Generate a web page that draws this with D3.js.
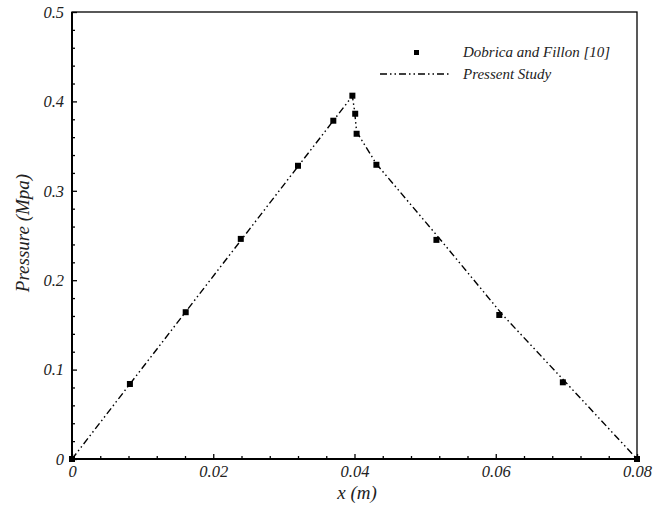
<!DOCTYPE html>
<html>
<head>
<meta charset="utf-8">
<script src="https://cdn.jsdelivr.net/npm/d3@7/dist/d3.min.js"></script>
<style>
  body { margin: 0; background: #fff; }
</style>
</head>
<body>
<svg id="chart" width="668" height="506"></svg>
<script>
// Reference measurements (Dobrica and Fillon [10])
const refX = [0, 0.0082, 0.0161, 0.0239, 0.0320, 0.0370, 0.0397, 0.0401, 0.0403, 0.0431, 0.0516, 0.0605, 0.0695, 0.08];
const refP = [0, 0.0839, 0.1642, 0.2462, 0.3280, 0.3784, 0.4064, 0.3862, 0.3638, 0.3291, 0.2451, 0.1611, 0.0858, 0];

// Present study pressure profile
const studyX = [0, 0.0397, 0.0400, 0.0403, 0.0431, 0.0522, 0.0610, 0.0699, 0.08];
const studyP = [0, 0.4060, 0.3900, 0.3660, 0.3300, 0.2450, 0.1610, 0.0858, 0];

const xMajor = [0, 0.02, 0.04, 0.06, 0.08];
const yMajor = [0, 0.1, 0.2, 0.3, 0.4, 0.5];
const xTickLabels = ["0", "0.02", "0.04", "0.06", "0.08"];
const yTickLabels = ["0", "0.1", "0.2", "0.3", "0.4", "0.5"];

const legendLabels = ["Dobrica and Fillon [10]", "Pressent Study"];

const FONT = '"Liberation Serif", "Times New Roman", Times, "DejaVu Serif", serif';
const INK = "#222";

const svg = d3.select("#chart");
const plotL = 72, plotR = 637, plotT = 12, plotB = 459;

const x = d3.scaleLinear().domain([0, 0.08]).range([plotL, plotR]);
const y = d3.scaleLinear().domain([0, 0.5]).range([plotB, plotT]);

function styleText(sel, size) {
  sel.attr("font-family", FONT).attr("font-style", "italic")
     .attr("font-size", size).attr("fill", INK);
}

// minor ticks
const xMinor = d3.range(0, 0.0801, 0.004).filter(v => !xMajor.some(m => Math.abs(m - v) < 1e-9));
const yMinor = d3.range(0, 0.5001, 0.02).filter(v => !yMajor.some(m => Math.abs(m - v) < 1e-9));

const gx = svg.append("g").attr("transform", `translate(0,${plotB})`);
gx.call(d3.axisBottom(x).tickValues(xMinor).tickSize(-3).tickFormat(""));
gx.call(g => g.select(".domain").remove());
const gx2 = svg.append("g").attr("transform", `translate(0,${plotB})`);
gx2.call(d3.axisBottom(x).tickValues(xMajor).tickSize(-5).tickPadding(6)
  .tickFormat((d, i) => xTickLabels[i]));
gx2.call(g => g.select(".domain").remove());
gx2.attr("font-family", null).attr("font-size", null);
styleText(gx2.selectAll("text"), 16.5);

const gy = svg.append("g").attr("transform", `translate(${plotL},0)`);
gy.call(d3.axisLeft(y).tickValues(yMinor).tickSize(-3).tickFormat(""));
gy.call(g => g.select(".domain").remove());
const gy2 = svg.append("g").attr("transform", `translate(${plotL},0)`);
gy2.call(d3.axisLeft(y).tickValues(yMajor).tickSize(-5).tickPadding(8)
  .tickFormat((d, i) => yTickLabels[i]));
gy2.call(g => g.select(".domain").remove());
gy2.attr("font-family", null).attr("font-size", null);
styleText(gy2.selectAll("text"), 16.5);

svg.selectAll(".tick line").attr("stroke", "#000").attr("stroke-width", 1.3);

// plot frame
svg.append("rect")
  .attr("x", plotL).attr("y", plotT)
  .attr("width", plotR - plotL).attr("height", plotB - plotT)
  .attr("fill", "none").attr("stroke", "#000").attr("stroke-width", 1.3);
svg.append("line").attr("x1", plotL).attr("x2", plotR).attr("y1", plotB).attr("y2", plotB)
  .attr("stroke", "#000").attr("stroke-width", 2);
svg.append("line").attr("x1", plotL).attr("x2", plotL).attr("y1", plotT).attr("y2", plotB)
  .attr("stroke", "#000").attr("stroke-width", 2);

// present study line
const dash = "7,3,1.5,3,1.5,3";
const line = d3.line().x(d => x(d[0])).y(d => y(d[1]));
svg.append("path")
  .datum(d3.zip(studyX, studyP))
  .attr("d", line)
  .attr("fill", "none").attr("stroke", "#000").attr("stroke-width", 1.4)
  .attr("stroke-dasharray", dash);

// reference markers
const ms = 6;
svg.append("g").selectAll("rect")
  .data(d3.zip(refX, refP))
  .join("rect")
  .attr("x", d => x(d[0]) - ms / 2).attr("y", d => y(d[1]) - ms / 2)
  .attr("width", ms).attr("height", ms).attr("fill", "#000");

// axis titles
styleText(svg.append("text").attr("x", 357).attr("y", 499).attr("text-anchor", "middle")
  .text("x (m)"), 19);
styleText(svg.append("text").attr("transform", "translate(29,233) rotate(-90)")
  .attr("text-anchor", "middle").text("Pressure (Mpa)"), 19);

// legend
const lg = svg.append("g");
lg.append("rect").attr("x", 414).attr("y", 50).attr("width", 5).attr("height", 5).attr("fill", "#000");
lg.append("line").attr("x1", 380).attr("x2", 450).attr("y1", 74).attr("y2", 74)
  .attr("stroke", "#000").attr("stroke-width", 1.4).attr("stroke-dasharray", dash);
styleText(lg.append("text").attr("x", 463).attr("y", 57).text(legendLabels[0]), 15);
styleText(lg.append("text").attr("x", 463).attr("y", 79).text(legendLabels[1]), 15);
</script>
</body>
</html>
